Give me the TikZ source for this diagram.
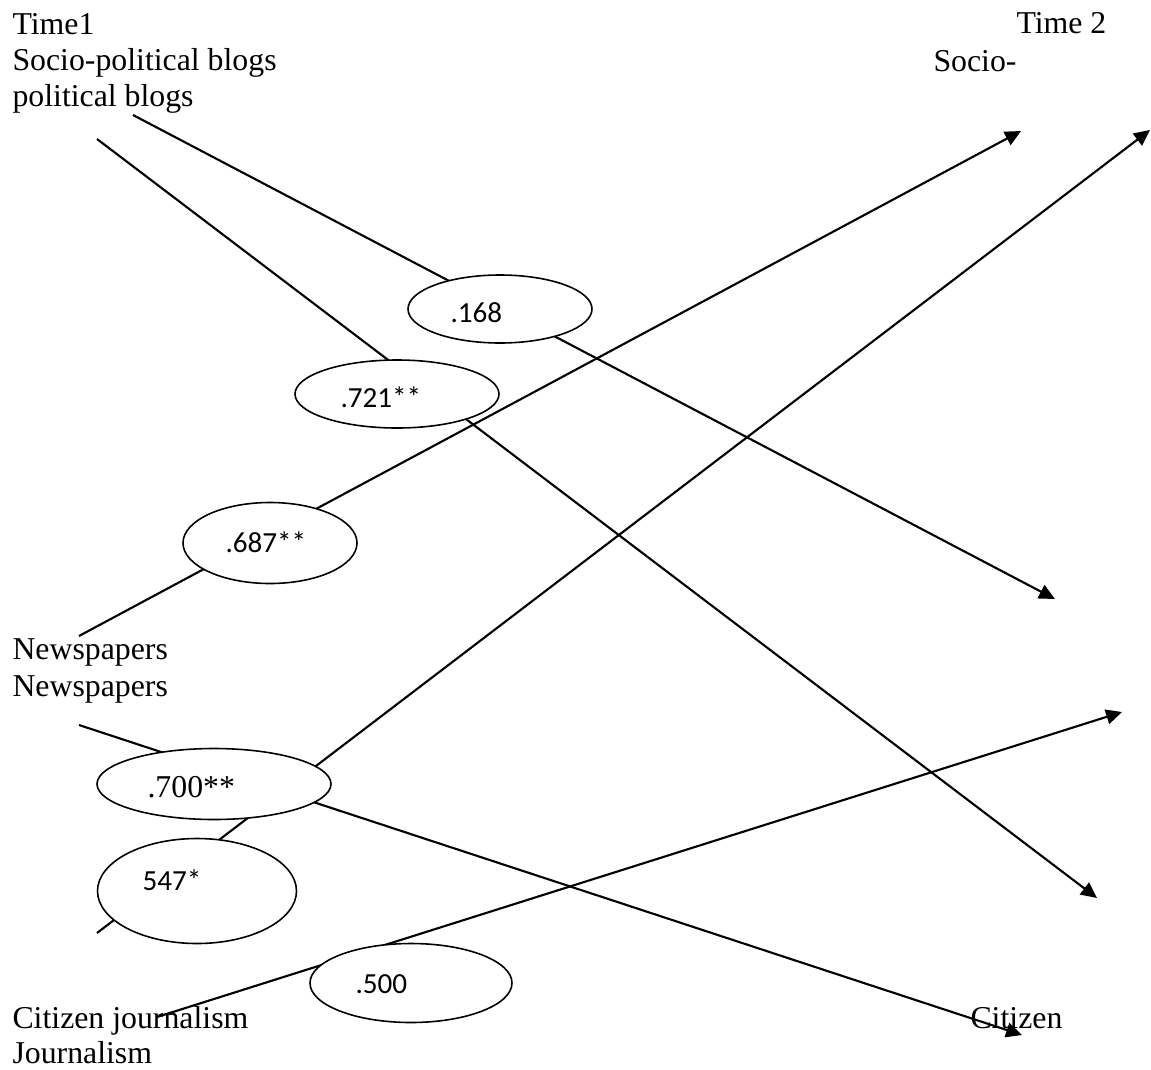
\documentclass[tikz,border=0pt]{standalone}
\usepackage{fontspec}
\setmainfont{Liberation Serif}
\newfontfamily\calibri{Carlito}
\usetikzlibrary{shapes.geometric,arrows.meta}
\newcommand{\px}{0.3774pt}

\begin{document}
\begin{tikzpicture}[
		x=\px, y=-\px,
		lbl/.style={anchor=base west, inner sep=0pt, font=\fontsize{12}{14}\selectfont},
		coef/.style={anchor=base west, inner sep=0pt, font=\calibri\fontsize{11}{13}\selectfont},
		link/.style={line width=0.8pt, -{Triangle[length=6pt, width=5.6pt]}},
		oval/.style 2 args={ellipse, draw, line width=0.6pt, fill=white, inner sep=0pt,
			minimum width=#1*\px, minimum height=#2*\px}
	]
	\useasboundingbox (0,0) rectangle (1151,1069);

	% labels
	\node[lbl] (time1) at (12,34) {Time1};
	\node[lbl] (blogs1) at (12,70) {Socio-political blogs};
	\node[lbl] (blogs1b) at (12,106) {political blogs};
	\node[lbl] (news1) at (12,659) {Newspapers};
	\node[lbl] (news1b) at (12,696) {Newspapers};
	\node[lbl] (cit1) at (12,1028) {Citizen journalism};
	\node[lbl] (cit1b) at (12,1063) {Journalism};
	\node[lbl] (time2) at (1016,33) {Time 2};
	\node[lbl] (blogs2) at (933,71) {Socio-};
	\node[lbl] (cit2) at (970,1028) {Citizen};

	% ends of the paths
	\coordinate (bb0) at (133,115);  \coordinate (bb1) at (1055,599);
	\coordinate (bn0) at (97,139);   \coordinate (bn1) at (1097,898);
	\coordinate (nb0) at (79,636);   \coordinate (nb1) at (1021,131);
	\coordinate (cb0) at (97,933);   \coordinate (cb1) at (1150,130);
	\coordinate (nc0) at (79,725);   \coordinate (nc1) at (1022,1035);
	\coordinate (cn0) at (157,1017); \coordinate (cn1) at (1122,712);

	\foreach \a/\b in {bb0/bb1, bn0/bn1, nb0/nb1, cb0/cb1, nc0/nc1, cn0/cn1}
		\draw[link] (\a) -- (\b);

	% coefficients
	\node[oval={184}{68}] (e168) at (500,309) {};
	\node[coef] (c168) at (450,322) {.168};
	\node[oval={204}{68}] (e721) at (397,394) {};
	\node[coef] (c721) at (340,407) {.721**};
	\node[oval={174}{81}] (e687) at (270,543) {};
	\node[coef] (c687) at (225,552) {.687**};
	\node[oval={234}{71}] (e700) at (214,784) {};
	\node[lbl] (c700) at (147,797) {.700**};
	\node[oval={199}{105}] (e547) at (197,891) {};
	\node[coef] (c547) at (142,890) {547*};
	\node[oval={202}{79}] (e500) at (411,983) {};
	\node[coef] (c500) at (355,993) {.500};
\end{tikzpicture}
\end{document}
